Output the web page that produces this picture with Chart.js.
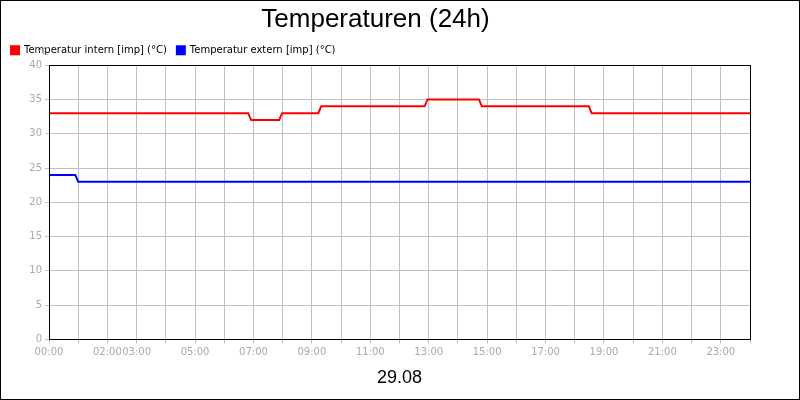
<!DOCTYPE html>
<html><head><meta charset="utf-8">
<script src="https://cdn.jsdelivr.net/npm/chart.js@4"></script>
<style>
body{margin:0;background:#fff}
#wrap{position:absolute;left:0;top:0;width:798px;height:398px;border:1px solid #000}
</style></head><body>
<div id="wrap"><canvas id="c" width="798" height="398"></canvas></div>
<script>
// hours since midnight where the value changes, and the values
const internHours = [0, 6.82, 6.92, 7.88, 7.98, 9.22, 9.32, 12.86, 12.96, 14.72, 14.82, 18.48, 18.58, 24];
const internTemps = [33, 33, 32, 32, 33, 33, 34, 34, 35, 35, 34, 34, 33, 33];
const externHours = [0, 0.9, 1.0, 24];
const externTemps = [24, 24, 23, 23];
const shownHourLabels = [0, 2, 3, 5, 7, 9, 11, 13, 15, 17, 19, 21, 23];

const pts = (xs, ys) => xs.map((x, i) => ({x: x, y: ys[i]}));

const frame = {
  id: 'frame',
  afterDraw(chart) {
    const c = chart.ctx, a = chart.chartArea;
    c.save();
    c.strokeStyle = '#000';
    c.lineWidth = 1;
    c.strokeRect(Math.round(a.left) + 0.5, Math.round(a.top) + 0.5, Math.round(a.right - a.left), Math.round(a.bottom - a.top));
    c.fillStyle = '#aaa';
    c.font = '10px "DejaVu Sans"';
    c.fillText('°C', 36, 51);
    c.restore();
  }
};

new Chart(document.getElementById('c').getContext('2d'), {
  type: 'line',
  data: {
    datasets: [{
      label: 'Temperatur intern [imp] (°C)',
      data: pts(internHours, internTemps),
      borderColor: '#ff0000', backgroundColor: '#ff0000',
      borderWidth: 2, pointRadius: 0
    }, {
      label: 'Temperatur extern [imp] (°C)',
      data: pts(externHours, externTemps),
      borderColor: '#0000ff', backgroundColor: '#0000ff',
      borderWidth: 2, pointRadius: 0
    }]
  },
  options: {
    responsive: false, animation: false,
    layout: {padding: {left: 0, right: 49, top: 0, bottom: 6}},
    plugins: {
      title: {display: true, text: 'Temperaturen (24h)', color: '#000',
        font: {family: 'Liberation Sans', size: 26, weight: 'normal'}, padding: {top: 3, bottom: 0}},
      legend: {align: 'start', labels: {boxWidth: 8, boxHeight: 8, color: '#000',
        font: {family: 'DejaVu Sans', size: 10}, padding: 10}},
      tooltip: {enabled: false}
    },
    scales: {
      x: {type: 'linear', min: 0, max: 24,
        ticks: {stepSize: 1, color: '#aaa', font: {family: 'DejaVu Sans', size: 10}, maxRotation: 0, autoSkip: false,
          callback: v => shownHourLabels.includes(v) ? String(v).padStart(2, '0') + ':00' : ''},
        grid: {color: '#c0c0c0', tickLength: 4},
        border: {color: '#000'},
        title: {display: true, text: '29.08', color: '#000', font: {family: 'Liberation Sans', size: 18}, padding: {top: 6}}},
      y: {min: 0, max: 40,
        afterFit: s => { s.width = 48; },
        ticks: {stepSize: 5, color: '#aaa', font: {family: 'DejaVu Sans', size: 10}},
        grid: {color: '#c0c0c0', tickLength: 4},
        border: {color: '#000'}}
    }
  },
  plugins: [frame]
});
</script></body></html>
